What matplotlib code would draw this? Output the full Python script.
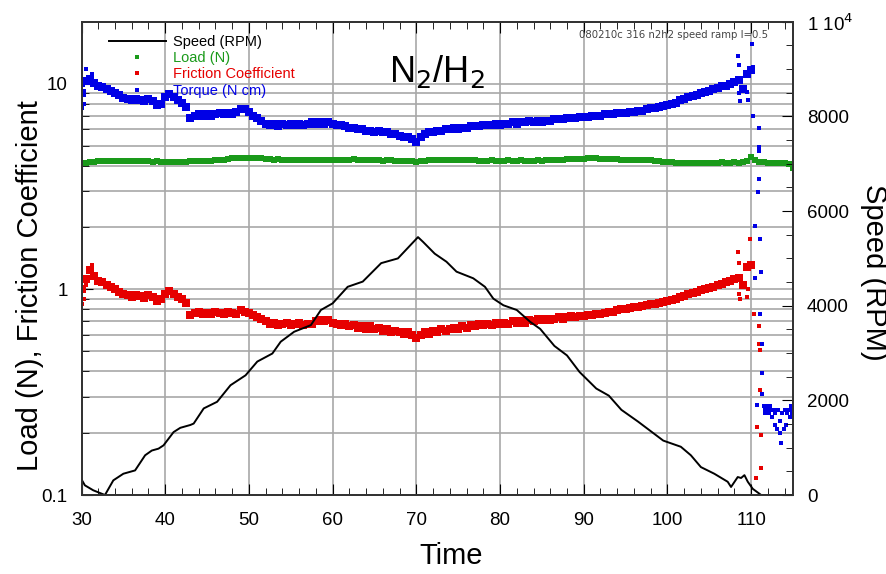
import numpy as np
import matplotlib
matplotlib.use('Agg')
import matplotlib.pyplot as plt
from matplotlib.ticker import FixedLocator, MultipleLocator, LogLocator, NullFormatter
from matplotlib.lines import Line2D

plt.rcParams['font.family'] = ['Liberation Sans', 'DejaVu Sans']

# speed ramp (RPM), right axis
speed_time = [30.0, 30.4, 31.4, 32.8, 33.8, 35.0, 36.4, 37.6, 38.4, 39.2, 39.8, 41.0, 41.8, 43.0,
              43.4, 44.6, 46.2, 47.8, 49.6, 51.0, 52.8, 53.8, 55.4, 57.4, 58.6, 60.0, 61.8, 63.6,
              65.8, 67.8, 70.2, 70.8, 72.2, 73.6, 74.8, 76.8, 78.2, 79.2, 80.4, 82.0, 83.6, 84.8,
              86.5, 88.0, 89.5, 91.5, 93.0, 94.5, 96.5, 98.0, 99.5, 101.6, 102.8, 104.0, 105.6,
              107.2, 107.6, 108.4, 108.8, 109.2, 109.6, 110.2, 111.2, 113.0, 115.0]
speed_rpm = [330, 205, 100, 0, 310, 450, 520, 840, 940, 980, 1050, 1330, 1420, 1480,
             1510, 1830, 1970, 2320, 2530, 2820, 2990, 3240, 3450, 3590, 3910, 4050, 4400, 4510,
             4900, 5000, 5450, 5350, 5100, 4930, 4720, 4580, 4400, 4150, 4010, 3910, 3660, 3510,
             3150, 2950, 2600, 2250, 2100, 1800, 1550, 1350, 1150, 1020, 840, 590, 450,
             280, 170, 380, 360, 420, 280, 130, 0, 0, 0]

# sampled every 0.5 s from 30 to 110
friction = [1.00, 1.12, 1.24, 1.16, 1.10, 1.08, 1.05, 1.03, 1.00, 0.97,
            0.95, 0.94, 0.92, 0.94, 0.93, 0.91, 0.94, 0.92, 0.88, 0.90,
            0.95, 0.98, 0.95, 0.92, 0.90, 0.86, 0.75, 0.77, 0.78, 0.76,
            0.77, 0.76, 0.78, 0.77, 0.76, 0.78, 0.77, 0.76, 0.79, 0.78,
            0.77, 0.75, 0.73, 0.72, 0.70, 0.68, 0.69, 0.67, 0.68, 0.69,
            0.67, 0.68, 0.69, 0.67, 0.68, 0.68, 0.70, 0.71, 0.70, 0.71,
            0.69, 0.68, 0.67, 0.68, 0.66, 0.67, 0.65, 0.66, 0.64, 0.66,
            0.64, 0.65, 0.63, 0.64, 0.62, 0.63, 0.62, 0.61, 0.62, 0.60,
            0.58, 0.60, 0.62, 0.61, 0.63, 0.62, 0.64, 0.63, 0.64, 0.65,
            0.64, 0.66, 0.65, 0.67, 0.66, 0.68, 0.67, 0.68, 0.67, 0.69,
            0.68, 0.69, 0.68, 0.70, 0.69, 0.70, 0.69, 0.71, 0.70, 0.72,
            0.71, 0.72, 0.71, 0.72, 0.73, 0.72, 0.73, 0.74, 0.73, 0.74,
            0.74, 0.75, 0.75, 0.76, 0.76, 0.77, 0.78, 0.78, 0.79, 0.80,
            0.80, 0.81, 0.82, 0.82, 0.83, 0.84, 0.85, 0.85, 0.86, 0.87,
            0.88, 0.89, 0.90, 0.92, 0.93, 0.95, 0.96, 0.97, 0.99, 1.00,
            1.02, 1.03, 1.05, 1.06, 1.08, 1.10, 1.12, 1.14, 1.05, 1.28,
            1.32]
torque = [9.0, 10.3, 10.6, 10.1, 9.8, 9.6, 9.4, 9.2, 9.0, 8.8,
          8.5, 8.4, 8.3, 8.4, 8.3, 8.2, 8.4, 8.2, 7.9, 8.0,
          8.6, 8.9, 8.6, 8.3, 8.1, 7.7, 6.8, 7.0, 7.1, 7.0,
          7.1, 7.0, 7.1, 7.2, 7.1, 7.2, 7.1, 7.3, 7.5, 7.5,
          7.3, 7.0, 6.8, 6.6, 6.4, 6.3, 6.4, 6.2, 6.4, 6.3,
          6.4, 6.3, 6.4, 6.3, 6.4, 6.5, 6.4, 6.5, 6.4, 6.5,
          6.4, 6.3, 6.3, 6.2, 6.1, 6.1, 6.0, 6.0, 5.9, 5.9,
          5.8, 5.9, 5.8, 5.8, 5.7, 5.7, 5.6, 5.5, 5.5, 5.4,
          5.2, 5.5, 5.7, 5.8, 5.8, 5.9, 5.9, 6.0, 6.0, 6.1,
          6.0, 6.1, 6.1, 6.2, 6.2, 6.2, 6.3, 6.3, 6.3, 6.4,
          6.3, 6.4, 6.4, 6.5, 6.4, 6.5, 6.5, 6.6, 6.5, 6.6,
          6.5, 6.6, 6.6, 6.7, 6.7, 6.7, 6.8, 6.8, 6.8, 6.9,
          6.9, 6.9, 7.0, 7.0, 7.0, 7.1, 7.1, 7.1, 7.2, 7.2,
          7.2, 7.3, 7.3, 7.4, 7.4, 7.5, 7.6, 7.6, 7.7, 7.8,
          7.9, 8.0, 8.1, 8.3, 8.4, 8.6, 8.7, 8.8, 9.0, 9.1,
          9.2, 9.4, 9.5, 9.7, 9.8, 10.0, 10.2, 10.4, 9.4, 11.1,
          11.7]
# sampled every 0.5 s from 30 to 115
load = [4.10, 4.13, 4.15, 4.18, 4.20, 4.19, 4.21, 4.20, 4.22, 4.21,
        4.20, 4.21, 4.19, 4.20, 4.21, 4.20, 4.19, 4.18, 4.19, 4.18,
        4.17, 4.16, 4.17, 4.18, 4.17, 4.18, 4.20, 4.19, 4.20, 4.21,
        4.22, 4.23, 4.24, 4.26, 4.28, 4.30, 4.33, 4.35, 4.37, 4.36,
        4.35, 4.36, 4.34, 4.33, 4.31, 4.30, 4.28, 4.29, 4.27, 4.26,
        4.25, 4.26, 4.27, 4.26, 4.24, 4.25, 4.26, 4.27, 4.26, 4.25,
        4.24, 4.26, 4.27, 4.28, 4.27, 4.29, 4.28, 4.27, 4.26, 4.25,
        4.26, 4.24, 4.23, 4.24, 4.25, 4.23, 4.22, 4.23, 4.21, 4.20,
        4.18, 4.21, 4.23, 4.25, 4.26, 4.27, 4.26, 4.27, 4.28, 4.27,
        4.26, 4.27, 4.26, 4.25, 4.24, 4.23, 4.22, 4.23, 4.24, 4.23,
        4.22, 4.23, 4.24, 4.23, 4.22, 4.24, 4.23, 4.22, 4.23, 4.24,
        4.23, 4.24, 4.25, 4.26, 4.27, 4.28, 4.29, 4.30, 4.31, 4.30,
        4.32, 4.33, 4.34, 4.33, 4.32, 4.31, 4.30, 4.31, 4.29, 4.28,
        4.27, 4.28, 4.27, 4.26, 4.27, 4.25, 4.24, 4.22, 4.20, 4.18,
        4.16, 4.15, 4.13, 4.12, 4.13, 4.12, 4.11, 4.12, 4.13, 4.12,
        4.13, 4.12, 4.13, 4.14, 4.12, 4.13, 4.14, 4.10, 4.15, 4.20,
        4.42, 4.25, 4.16, 4.14, 4.13, 4.12, 4.13, 4.12, 4.12, 4.05,
        3.90]

# scattered points at start, near the 108-110 spikes and after the stop
friction_extra_t = [30.1, 30.3, 30.5, 31.2, 108.4, 108.5, 108.6, 108.7, 109.5, 109.6, 109.9,
                    110.3, 110.9, 111.0, 111.1, 111.1, 110.7, 111.2, 111.2, 110.6]
friction_extra_v = [0.85, 0.90, 1.05, 1.32, 1.52, 1.35, 0.95, 0.90, 0.92, 1.00, 1.75,
                    0.755, 0.667, 0.54, 0.51, 0.325, 0.215, 0.196, 0.135, 0.121]
torque_extra_t = [30.1, 30.3, 30.5, 30.2, 31.2, 108.4, 108.5, 108.6, 108.7, 109.5, 109.6,
                  110.1, 110.2, 110.2, 110.9, 110.9, 111.0, 111.0, 110.8, 110.5, 111.1,
                  110.5, 111.2, 111.1, 111.3, 111.3, 111.3, 110.7,
                  111.5, 111.6, 111.7, 111.8, 112.0, 112.1, 112.2, 112.4, 112.5, 112.7,
                  112.8, 112.9, 113.1, 113.2, 113.4, 113.5, 113.6, 113.7, 113.9, 114.0,
                  114.2, 114.3, 114.5, 114.6, 114.8, 114.9, 115.0]
torque_extra_v = [7.6, 8.0, 11.8, 9.9, 11.2, 13.7, 12.3, 9.0, 8.2, 9.1, 8.3,
                  15.6, 12.1, 7.0, 6.08, 4.93, 4.73, 3.44, 2.96, 2.04, 1.75,
                  1.14, 1.21, 0.755, 0.54, 0.39, 0.31, 0.275,
                  0.27, 0.25, 0.26, 0.27, 0.26, 0.25, 0.27, 0.26, 0.24, 0.26,
                  0.22, 0.25, 0.21, 0.26, 0.23, 0.20, 0.18, 0.25, 0.21, 0.26,
                  0.22, 0.25, 0.26, 0.24, 0.27, 0.25, 0.26]

t_ft = np.arange(30, 110.01, 0.5)
t_load = np.arange(30, 115.01, 0.5)

green = '#1a9a1a'
red = '#e60000'
blue = '#0000e6'
gridc = '#a8a8a8'

fig = plt.figure(figsize=(8.87, 5.74), dpi=100)
ax = fig.add_axes([0.0919, 0.1376, 0.8021, 0.8244])
ax2 = ax.twinx()

ms = 3.4     # isolated points
ax.plot(t_load, load, ls='none', marker='s', ms=5.0, mew=0, color=green)
ax.plot(t_ft, friction, ls='none', marker='s', ms=6.0, mew=0, color=red)
ax.plot(friction_extra_t, friction_extra_v, ls='none', marker='s', ms=ms, mew=0, color=red)
ax.plot(t_ft, torque, ls='none', marker='s', ms=6.0, mew=0, color=blue)
ax.plot(torque_extra_t, torque_extra_v, ls='none', marker='s', ms=ms, mew=0, color=blue)
ax2.plot(speed_time, speed_rpm, color='black', lw=1.4)

ax.set_yscale('log')
ax.set_ylim(0.1, 20)
ax.set_xlim(30, 115)
ax.set_xticks(range(30, 111, 10))
ax.xaxis.set_minor_locator(MultipleLocator(2))
ax.yaxis.set_major_locator(FixedLocator([0.1, 1, 10]))
ax.set_yticklabels(['0.1', '1', '10'])
ax.yaxis.set_minor_locator(LogLocator(base=10, subs=np.arange(2, 10)))
ax.yaxis.set_minor_formatter(NullFormatter())
ax.grid(True, which='both', axis='y', color=gridc, lw=1.2)
ax.grid(True, which='major', axis='x', color=gridc, lw=1.2)
ax.set_axisbelow(True)

ax2.set_ylim(0, 10000)
ax2.set_yticks([0, 2000, 4000, 6000, 8000, 10000])
ax2.set_yticklabels(['0', '2000', '4000', '6000', '8000', '1 10$^4$'])
ax2.yaxis.set_minor_locator(MultipleLocator(500))

ax.tick_params(axis='both', which='both', direction='in', top=True, labelsize=13.5)
ax.tick_params(axis='x', which='major', length=8, pad=12)
ax.tick_params(axis='x', which='minor', length=5)
ax.tick_params(axis='y', which='major', length=8, pad=10)
ax.tick_params(axis='y', which='minor', length=5)
ax2.tick_params(axis='y', which='both', direction='in', labelsize=13.5, pad=10)
ax2.tick_params(axis='y', which='major', length=8)
ax2.tick_params(axis='y', which='minor', length=5)
for a in (ax, ax2):
    for s in a.spines.values():
        s.set_linewidth(1.3)
        s.set_color('#333333')

fig.text(30 / 887, 0.503, 'Load (N), Friction Coefficient', rotation=90,
         ha='center', va='center', fontsize=21)
fig.text(874 / 887, 1 - 272 / 574, 'Speed (RPM)', rotation=270,
         ha='center', va='center', fontsize=21)
fig.text(451 / 887, 1 - 556 / 574, 'Time', ha='center', va='center', fontsize=21)

ax.text(0.5, 0.873, 'N$_2$/H$_2$', transform=ax.transAxes, fontsize=26,
        ha='center', va='baseline')
ax.text(0.965, 0.982, '080210c 316 n2h2 speed ramp l=0.5', transform=ax.transAxes,
        fontsize=7.3, ha='right', va='top', color='#444444', family='DejaVu Sans')

handles = [Line2D([], [], color='black', lw=1.4),
           Line2D([], [], ls='none', marker='s', ms=3, mew=0, color=green),
           Line2D([], [], ls='none', marker='s', ms=3, mew=0, color=red),
           Line2D([], [], ls='none', marker='s', ms=3, mew=0, color=blue)]
labels = ['Speed (RPM)', 'Load (N)', 'Friction Coefficient', 'Torque (N cm)']
leg = ax2.legend(handles, labels, loc='upper left', bbox_to_anchor=(0.0387, 0.972),
                 frameon=False, fontsize=10.5, handlelength=3.9, handletextpad=0.5,
                 labelspacing=0.15, borderpad=0, borderaxespad=0)
for txt, c in zip(leg.get_texts(), ['black', green, red, blue]):
    txt.set_color(c)

fig.savefig('out.png', dpi=100)
